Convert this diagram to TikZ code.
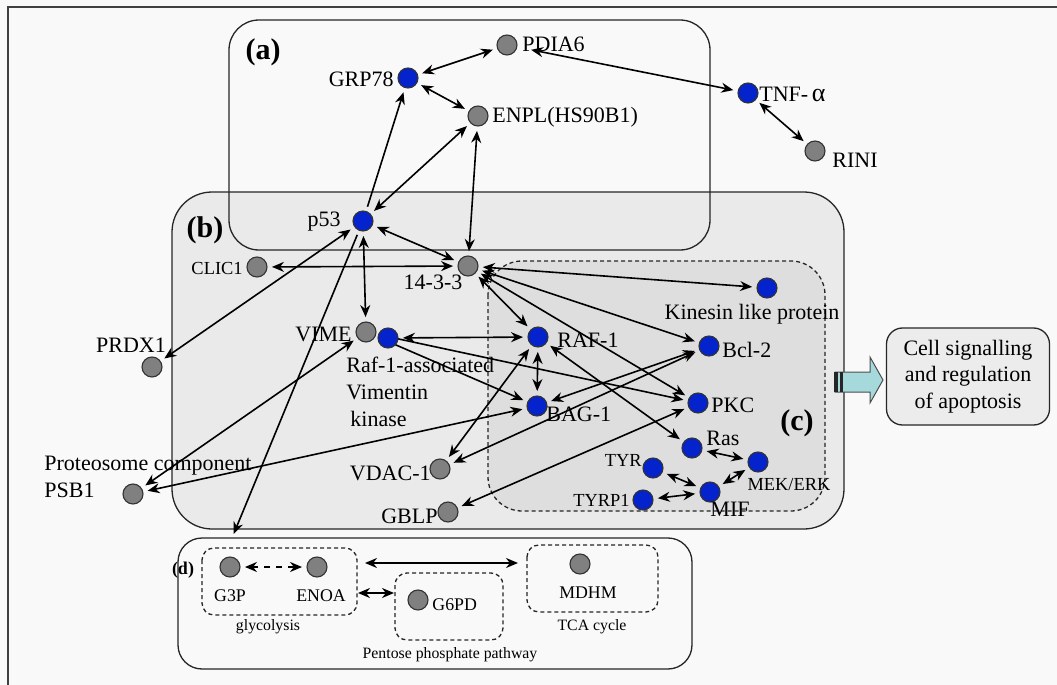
\documentclass[tikz,border=0pt]{standalone}
\usepackage{fontspec}
\setmainfont{Liberation Serif}
\usetikzlibrary{arrows.meta}
\definecolor{bgc}{RGB}{249,249,249}
\definecolor{bfill}{RGB}{234,234,234}
\definecolor{cfill}{RGB}{222,222,222}
\definecolor{ngrey}{RGB}{128,128,128}
\definecolor{nblue}{RGB}{5,35,205}
\definecolor{cellc}{RGB}{236,236,236}
\definecolor{arrc}{RGB}{166,217,220}
\pgfdeclarelayer{back}
\pgfdeclarelayer{edges}
\pgfsetlayers{back,edges,main}
\tikzset{
 gn/.style={circle, draw=black!80, line width=0.55pt, fill=ngrey, minimum size=10pt, inner sep=0pt},
 bn/.style={gn, fill=nblue},
 lb/.style={inner sep=0pt, font=\fontsize{11}{13}\selectfont},
 sm/.style={inner sep=0pt, font=\fontsize{9.2}{11}\selectfont},
 dl/.style={inner sep=0pt, font=\fontsize{8.9}{10}\selectfont},
 xs/.style={inner sep=0pt, font=\fontsize{7.9}{9}\selectfont},
 bl/.style={inner sep=0pt, font=\fontsize{15}{18}\selectfont\bfseries},
 lnk/.style={<->, line width=0.8pt, shorten <=2.2pt, shorten >=2.2pt},
 box/.style={line width=0.65pt, draw=black!85},
 dbox/.style={line width=0.65pt, draw=black!85, dash pattern=on 2pt off 1.5pt},
}
\begin{document}
\begin{tikzpicture}[x=0.5pt,y=-0.5pt,>={Stealth[length=6pt,width=5pt]}]
\clip (0,0) rectangle (1057,685);
\begin{pgfonlayer}{back}
\fill[bgc] (0,0) rectangle (1057,685);
\draw[line width=0.9pt, black!75] (8,7) rectangle (1075,700);
\draw[box, fill=bfill, rounded corners=20pt] (172,192) rectangle (844,529);
\draw[dbox, fill=cfill, rounded corners=17pt] (488,261) rectangle (825,511);
\draw[box, rounded corners=15pt] (229,20) rectangle (710,250);
\draw[box, rounded corners=12pt] (178,538) rectangle (692,669);
\draw[dbox, rounded corners=6pt] (202,548) rectangle (357,615);
\draw[dbox, rounded corners=6pt] (395,573) rectangle (503,640);
\draw[dbox, rounded corners=6pt] (527,545) rectangle (658,612);
% big arrow
\draw[fill=arrc, draw=black!70, line width=0.5pt] (835,372) -- (870,372) -- (870,357) -- (883,380) -- (870,403) -- (870,392) -- (835,392) -- cycle;
\fill[black!85] (834,372) rectangle (838,392);
\fill[black!85] (840,372) rectangle (843,392);
\end{pgfonlayer}

\node[box, fill=cellc, rounded corners=8pt, minimum width=81.5pt, minimum height=48.5pt, align=center, inner sep=0pt, font=\fontsize{11}{13.25}\selectfont] (cellbox) at (968,376.5) {Cell signalling\\and regulation\\of apoptosis};

% nodes
\node[gn] (pdia6) at (507,45) {};
\node[bn] (grp78) at (408,78) {};
\node[gn] (enpl) at (478,116) {};
\node[bn] (tnf) at (748,93) {};
\node[gn] (rini) at (815,151) {};
\node[bn] (p53) at (363,221) {};
\node[gn] (c1433) at (468,266) {};
\node[gn] (clic1) at (257,267) {};
\node[gn] (vime) at (366,332) {};
\node[bn] (rvk) at (388,338) {};
\node[bn] (raf1) at (538,337) {};
\node[bn] (bag1) at (537,406) {};
\node[bn] (klp) at (767,288) {};
\node[bn] (bcl2) at (709,346) {};
\node[bn] (pkc) at (698,403) {};
\node[bn] (ras) at (692,448) {};
\node[bn] (tyr) at (653,468) {};
\node[bn] (mek) at (758,462) {};
\node[bn] (mif) at (710,492) {};
\node[bn] (tyrp1) at (643,500) {};
\node[gn] (vdac) at (440,469) {};
\node[gn] (gblp) at (448,512) {};
\node[gn] (prdx1) at (152,367) {};
\node[gn] (psb1) at (133,494) {};
\node[gn] (g3p) at (230,567) {};
\node[gn] (enoa) at (317,567) {};
\node[gn] (g6pd) at (418,600) {};
\node[gn] (mdhm) at (580,564) {};
\coordinate (dtop) at (232,538);
\coordinate (glyR) at (365,563);
\coordinate (tcaL) at (518,563);
\coordinate (glyR2) at (358,593);
\coordinate (pentL) at (394,593);

% labels
\node[lb, anchor=west] (lpdia6) at (522,44) {PDIA6};
\node[lb, anchor=east] (lgrp78) at (394,79) {GRP78};
\node[lb, anchor=west] (lenpl) at (492,117) {ENPL(HS90B1)};
\node[lb, anchor=west] (ltnf) at (759,94) {TNF-\,{\fontsize{13}{13}\selectfont α}};
\node[lb, anchor=west] (lrini) at (832,160) {RINI};
\node[lb, anchor=east] (lp53) at (341,222) {p53};
\node[lb] (l1433) at (433,282) {14-3-3};
\node[sm, anchor=east] (lclic1) at (243,268) {CLIC1};
\node[lb, anchor=east] (lvime) at (352,334) {VIME};
\node[lb, anchor=north west, align=left, font=\fontsize{11}{13.5}\selectfont] (lrvk) at (346,357) {Raf-1-associated\\Vimentin\\\hspace{2pt}kinase};
\node[lb, anchor=west] (lraf1) at (557,340) {RAF-1};
\node[lb, anchor=west] (lbag1) at (546,414) {BAG-1};
\node[lb] (lklp) at (752,314) {Kinesin like protein};
\node[lb, anchor=west] (lbcl2) at (722,350) {Bcl-2};
\node[lb, anchor=west] (lpkc) at (711,405) {PKC};
\node[lb, anchor=west] (lras) at (706,438) {Ras};
\node[sm, anchor=east] (ltyr) at (642,460) {TYR};
\node[sm] (lmek) at (789,485) {MEK/ERK};
\node[lb] (lmif) at (730,509) {MIF};
\node[sm, anchor=east] (ltyrp1) at (630,500) {TYRP1};
\node[lb, anchor=east] (lvdac) at (431,473) {VDAC-1};
\node[lb, anchor=east] (lgblp) at (438,516) {GBLP};
\node[lb] (lprdx1) at (131,345) {PRDX1};
\node[lb, anchor=base west] (lpsb1a) at (44,470) {Proteosome component};
\node[lb, anchor=base west] (lpsb1b) at (44,497) {PSB1};
\node[dl] (lg3p) at (230,596) {G3P};
\node[dl] (lenoa) at (321,596) {ENOA};
\node[dl, anchor=west] (lg6pd) at (432,605) {G6PD};
\node[dl] (lmdhm) at (588,593) {MDHM};
\node[xs] (lgly) at (268,627) {glycolysis};
\node[xs] (lpent) at (450,655) {Pentose phosphate pathway};
\node[xs] (ltca) at (592,627) {TCA cycle};
\node[bl] (la) at (263,52) {(a)};
\node[bl] (lbb) at (205,230) {(b)};
\node[bl] (lc) at (797,423) {(c)};
\node[inner sep=0pt, font=\fontsize{9}{10}\selectfont\bfseries] (ld) at (183,570) {(d)};

% edges
\begin{pgfonlayer}{edges}
\draw[lnk] (grp78) -- (pdia6);
\draw[lnk] (grp78) -- (enpl);
\draw[lnk, shorten <=7pt] (pdia6) -- (tnf);
\draw[lnk] (tnf) -- (rini);
\draw[lnk, <-] (grp78) -- (p53);
\draw[lnk, ->] (p53) -- (dtop);
\draw[lnk] (p53) -- (enpl);
\draw[lnk] (c1433) -- (enpl);
\draw[lnk] (p53) -- (c1433);
\draw[lnk] (clic1) -- (c1433);
\draw[lnk] (p53) -- (vime);
\draw[lnk] (prdx1) -- (p53);
\draw[lnk] (c1433) -- (klp);
\draw[lnk] (c1433) -- (raf1);
\draw[lnk] (c1433) -- (bcl2);
\draw[lnk] (c1433) -- (pkc);
\draw[lnk] (rvk) -- (raf1);
\draw[lnk] (raf1) -- (bag1);
\draw[lnk] (vime) -- (bag1);
\draw[lnk] (vime) -- (pkc);
\draw[lnk] (psb1) -- (vime);
\draw[lnk] (psb1) -- (bag1);
\draw[lnk] (vdac) -- (raf1);
\draw[lnk] (vdac) -- (bcl2);
\draw[lnk] (bag1) -- (bcl2);
\draw[lnk] (gblp) -- (pkc);
\draw[lnk] (raf1) -- (ras);
\draw[lnk] (ras) -- (mek);
\draw[lnk] (tyr) -- (mif);
\draw[lnk] (mek) -- (mif);
\draw[lnk] (tyrp1) -- (mif);
\draw[lnk, dashed] (g3p) -- (enoa);
\draw[lnk, shorten <=0pt, shorten >=0pt] (glyR) -- (tcaL);
\draw[lnk, shorten <=0pt, shorten >=0pt] (glyR2) -- (pentL);
\end{pgfonlayer}
\end{tikzpicture}
\end{document}
